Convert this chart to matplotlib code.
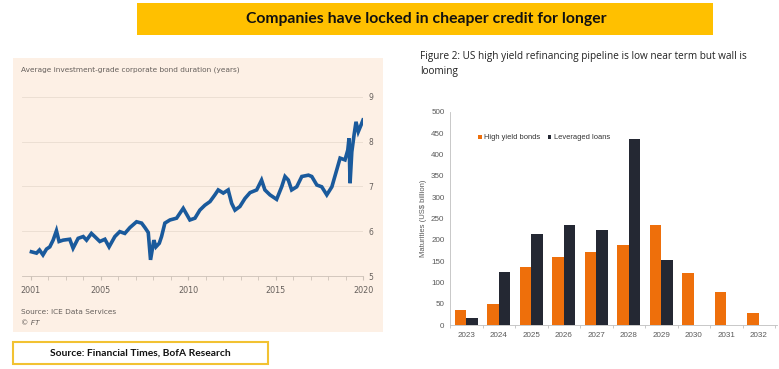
import matplotlib.pyplot as plt
from matplotlib.patches import Rectangle
import numpy as np

# left chart: average IG corporate bond duration (years)
dur_year = [2001.04, 2001.33, 2001.5, 2001.7, 2001.9, 2002.09, 2002.28, 2002.47, 2002.62, 2002.85,
            2003.23, 2003.42, 2003.71, 2004.0, 2004.19, 2004.47, 2004.66, 2004.95, 2005.24, 2005.48,
            2005.81, 2006.09, 2006.38, 2006.67, 2007.05, 2007.34, 2007.53, 2007.72, 2007.85, 2008.04,
            2008.16, 2008.35, 2008.48, 2008.67, 2008.96, 2009.34, 2009.72, 2010.1, 2010.39, 2010.67,
            2010.96, 2011.25, 2011.53, 2011.72, 2012.01, 2012.29, 2012.49, 2012.68, 2012.96, 2013.25,
            2013.54, 2013.92, 2014.2, 2014.39, 2014.68, 2015.06, 2015.35, 2015.54, 2015.73, 2015.92,
            2016.21, 2016.5, 2016.88, 2017.07, 2017.36, 2017.64, 2017.93, 2018.22, 2018.5, 2018.69,
            2018.97, 2019.13, 2019.2, 2019.26, 2019.36, 2019.49, 2019.6, 2019.73, 2019.89, 2020.0]
dur_value = [5.54, 5.51, 5.58, 5.47, 5.60, 5.65, 5.80, 6.01, 5.77, 5.80,
             5.82, 5.62, 5.84, 5.88, 5.80, 5.95, 5.88, 5.77, 5.82, 5.65,
             5.88, 5.99, 5.95, 6.08, 6.21, 6.18, 6.08, 5.97, 5.36, 5.80,
             5.65, 5.73, 5.88, 6.18, 6.25, 6.29, 6.51, 6.25, 6.29, 6.47,
             6.58, 6.66, 6.81, 6.92, 6.85, 6.92, 6.62, 6.47, 6.55, 6.73,
             6.86, 6.92, 7.14, 6.92, 6.81, 6.71, 6.99, 7.22, 7.14, 6.92,
             6.99, 7.22, 7.25, 7.22, 7.03, 6.99, 6.81, 6.99, 7.37, 7.63,
             7.59, 7.81, 8.07, 7.07, 7.77, 8.15, 8.44, 8.22, 8.37, 8.48]
dur_xticks = [2001, 2005, 2010, 2015, 2020]
dur_yticks = [5, 6, 7, 8, 9]

# right chart: US refinancing pipeline (US$ billion)
years = ["2023", "2024", "2025", "2026", "2027", "2028", "2029", "2030", "2031", "2032"]
hy_bonds = [36, 49, 136, 161, 171, 188, 235, 123, 77, 28]
lev_loans = [16, 124, 214, 235, 224, 435, 153, 1, 0, 0]

W, H = 779, 369


def rect(x0, y0, x1, y1):
    # pixel box (top-left origin) -> figure fraction rect
    return [x0 / W, 1 - y1 / H, (x1 - x0) / W, (y1 - y0) / H]


def fx(x):
    return x / W


def fy(y):
    return 1 - y / H


fig = plt.figure(figsize=(W / 100, H / 100), dpi=100)
fig.patch.set_facecolor("white")

# title banner
fig.patches.append(Rectangle((fx(137), fy(35)), (713 - 137) / W, 32 / H, zorder=-1,
                             transform=fig.transFigure, facecolor="#FFC000", edgecolor="none"))
fig.text(fx(426), fy(19), "Companies have locked in cheaper credit for longer",
         ha="center", va="center", fontsize=11.3, fontweight="bold", family="Lato", color="#111111")

# FT panel
fig.patches.append(Rectangle((fx(13), fy(332)), (383 - 13) / W, (332 - 58) / H, zorder=-1,
                             transform=fig.transFigure, facecolor="#FDF0E5", edgecolor="none"))
fig.text(fx(21), fy(70), "Average investment-grade corporate bond duration (years)",
         ha="left", va="center", fontsize=5.3, color="#66605C")
fig.text(fx(21), fy(312), "Source: ICE Data Services", ha="left", va="center",
         fontsize=5.3, color="#66605C")
fig.text(fx(21), fy(323), "\u00a9 FT", ha="left", va="center", fontsize=5.3,
         style="italic", color="#66605C")

ax1 = fig.add_axes(rect(22, 96.7, 363, 276))
ax1.set_facecolor("none")
ax1.plot(dur_year, dur_value, color="#1A5A9C", linewidth=2.6, solid_joinstyle="miter")
ax1.set_xlim(2000.5, 2020)
ax1.set_ylim(5, 9)
ax1.set_yticks(dur_yticks)
ax1.yaxis.tick_right()
ax1.tick_params(axis="y", length=0, pad=4, labelsize=5.5, labelcolor="#66605C")
ax1.set_xticks(range(2001, 2021), minor=True)
ax1.set_xticks(dur_xticks)
ax1.tick_params(axis="x", which="both", length=3, color="#CCC1B7", labelsize=5.8,
                labelcolor="#66605C", pad=4)
ax1.grid(axis="y", color="#E9DCD0", linewidth=0.6)
for s in ["top", "right", "left"]:
    ax1.spines[s].set_visible(False)
ax1.spines["bottom"].set_color("#CCC1B7")
ax1.spines["bottom"].set_linewidth(0.6)

# source box
fig.patches.append(Rectangle((fx(13), fy(364)), (268 - 13) / W, 22 / H, zorder=-1,
                             transform=fig.transFigure, facecolor="white",
                             edgecolor="#F2C232", linewidth=1.5))
fig.text(fx(140), fy(353), "Source: Financial Times, BofA Research", ha="center", va="center",
         fontsize=7.4, fontweight="bold", family="Lato", color="#111111")

# right chart
fig.text(fx(420), fy(64), "Figure 2: US high yield refinancing pipeline is low near term but wall is\nlooming",
         ha="left", va="center", fontsize=7.2, family="Open Sans", color="#222222", linespacing=1.45)

ax2 = fig.add_axes(rect(450, 111.7, 777, 325.3))
x = np.arange(len(years))
bw = 0.355
ax2.bar(x - bw / 2, hy_bonds, bw, color="#EE6F0B", label="High yield bonds")
ax2.bar(x + bw / 2, lev_loans, bw, color="#242833", label="Leveraged loans")
ax2.set_xlim(-0.5, 9.56)
ax2.set_ylim(0, 500)
ax2.set_yticks(range(0, 501, 50))
ax2.set_xticks(x)
ax2.set_xticklabels(years)
ax2.set_xticks(np.arange(-0.5, 9.6, 1.0), minor=True)
ax2.tick_params(axis="both", length=0, labelsize=5.8, labelcolor="#595959")
ax2.tick_params(axis="x", which="minor", length=2.5, color="#BFBFBF", width=0.6)
for lab in ax2.get_xticklabels() + ax2.get_yticklabels():
    lab.set_family("Liberation Sans")
ax2.tick_params(axis="y", pad=4)
ax2.tick_params(axis="x", which="major", pad=5)
ax2.set_ylabel("Maturities (US$ billion)", fontsize=5.5, color="#595959", labelpad=3,
               family="Liberation Sans")
for s in ["top", "right"]:
    ax2.spines[s].set_visible(False)
for s in ["left", "bottom"]:
    ax2.spines[s].set_color("#BFBFBF")
    ax2.spines[s].set_linewidth(0.6)
leg = ax2.legend(loc="upper left", bbox_to_anchor=(0.065, 0.925), ncol=2, frameon=False,
                 prop={"family": "Liberation Sans", "size": 5.4}, handlelength=0.5,
                 handleheight=0.5, handletextpad=0.3, columnspacing=1.0, labelcolor="#333333")

fig.savefig("out.png", dpi=100)
